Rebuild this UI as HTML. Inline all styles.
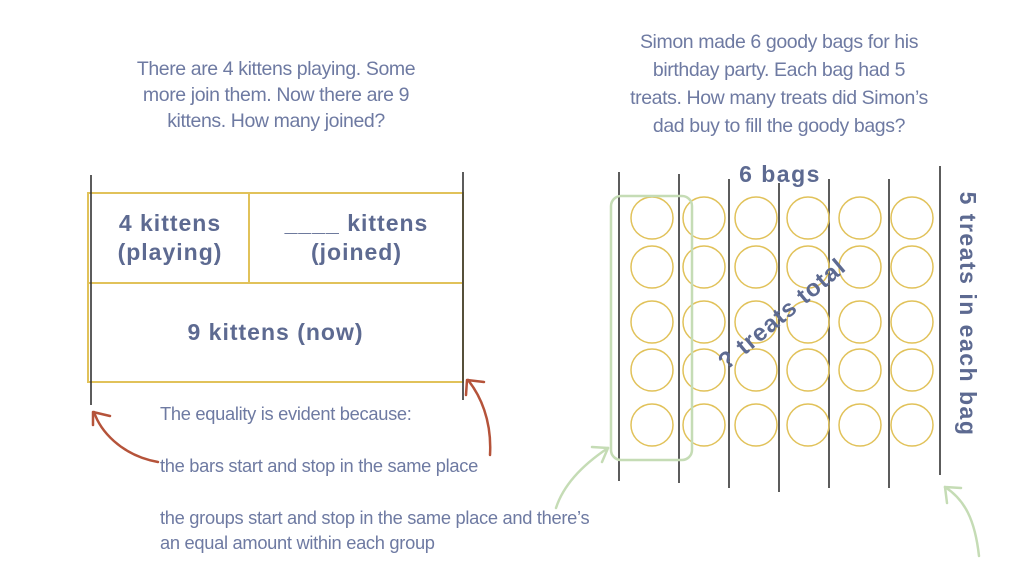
<!DOCTYPE html>
<html><head><meta charset="utf-8"><style>
html,body{margin:0;padding:0;background:#fff}
body{width:1024px;height:576px;position:relative;overflow:hidden;font-family:"Liberation Sans",sans-serif}
.t{position:absolute;color:#6e7aa2;font-size:19.5px;text-align:center;line-height:26px;letter-spacing:-0.4px}
.b{position:absolute;color:#5d6a91;font-weight:bold;font-size:23px;text-align:center;line-height:29px;letter-spacing:1px}
.p{position:absolute;color:#6e7aa2;font-size:18.3px;white-space:nowrap;letter-spacing:-0.3px}
</style></head><body>
<div class="t" style="left:96px;top:56px;width:360px">There are 4 kittens playing. Some<br>more join them. Now there are 9<br>kittens. How many joined?</div>
<div class="t" style="left:579px;top:28px;width:400px;line-height:28px">Simon made 6 goody bags for his<br>birthday party. Each bag had 5<br>treats. How many treats did Simon’s<br>dad buy to fill the goody bags?</div>

<svg width="1024" height="576" style="position:absolute;left:0;top:0">
<g fill="none" stroke="#e1c25a" stroke-width="2">
<rect x="88" y="193" width="375" height="189"/>
<line x1="88" y1="283" x2="463" y2="283"/>
<line x1="249" y1="193" x2="249" y2="283"/>
</g>
<g stroke="#333" stroke-width="1.6">
<line x1="91" y1="175" x2="91" y2="405"/>
<line x1="463" y1="172" x2="463" y2="400"/>
<line x1="619" y1="172" x2="619" y2="481"/>
<line x1="679" y1="174" x2="679" y2="483"/>
<line x1="729" y1="179" x2="729" y2="488"/>
<line x1="779" y1="183" x2="779" y2="492"/>
<line x1="829" y1="179" x2="829" y2="488"/>
<line x1="889" y1="179" x2="889" y2="488"/>
<line x1="940" y1="166" x2="940" y2="475"/>
</g>
<g fill="none" stroke="#e1c25a" stroke-width="1.5">
<g id="col">
<circle cx="652" cy="218" r="21"/><circle cx="652" cy="267" r="21"/><circle cx="652" cy="322" r="21"/><circle cx="652" cy="370" r="21"/><circle cx="652" cy="425" r="21"/>
</g>
<use href="#col" x="52"/><use href="#col" x="104"/><use href="#col" x="156"/><use href="#col" x="208"/><use href="#col" x="260"/>
</g>
<rect x="611" y="196" width="81" height="264" rx="10" fill="none" stroke="#c5dcb5" stroke-width="2.5"/>
<g fill="none" stroke="#b5533a" stroke-width="2.5" stroke-linecap="round">
<path d="M158 462 C120 455 100 430 94 412"/>
<path d="M93 412 L93 425 M93 412 L110 416"/>
<path d="M490 455 C492 420 480 395 468 380"/>
<path d="M467 380 L466 395 M467 380 L484 382"/>
</g>
<g fill="none" stroke="#c5dcb5" stroke-width="2.5" stroke-linecap="round">
<path d="M556 508 C565 480 590 460 608 448"/>
<path d="M608 448 L592 447 M608 448 L602 462"/>
<path d="M979 556 C975 520 965 500 945 487"/>
<path d="M945 487 L947 503 M945 487 L961 488"/>
</g>
<text x="787" y="320" transform="rotate(-40 787 320)" text-anchor="middle" font-family="Liberation Sans" font-weight="bold" font-size="24" fill="#5d6a91" letter-spacing="1">? treats total</text>
<text x="966" y="314" transform="rotate(90 966 314)" text-anchor="middle" dominant-baseline="middle" font-family="Liberation Sans" font-weight="bold" font-size="23" fill="#5d6a91" letter-spacing="1.5">5 treats in each bag</text>
<text x="780" y="182" text-anchor="middle" font-family="Liberation Sans" font-weight="bold" font-size="23" fill="#5d6a91" letter-spacing="1.5">6 bags</text>
</svg>

<div class="b" style="left:90px;top:209px;width:160px">4 kittens<br>(playing)</div>
<div class="b" style="left:250px;top:209px;width:213px">____ kittens<br>(joined)</div>
<div class="b" style="left:88px;top:318px;width:375px">9 kittens (now)</div>

<div class="p" style="left:160px;top:403px">The equality is evident because:</div>
<div class="p" style="left:160px;top:455px">the bars start and stop in the same place</div>
<div class="p" style="left:160px;top:507px">the groups start and stop in the same place and there’s</div>
<div class="p" style="left:160px;top:532px">an equal amount within each group</div>
</body></html>
